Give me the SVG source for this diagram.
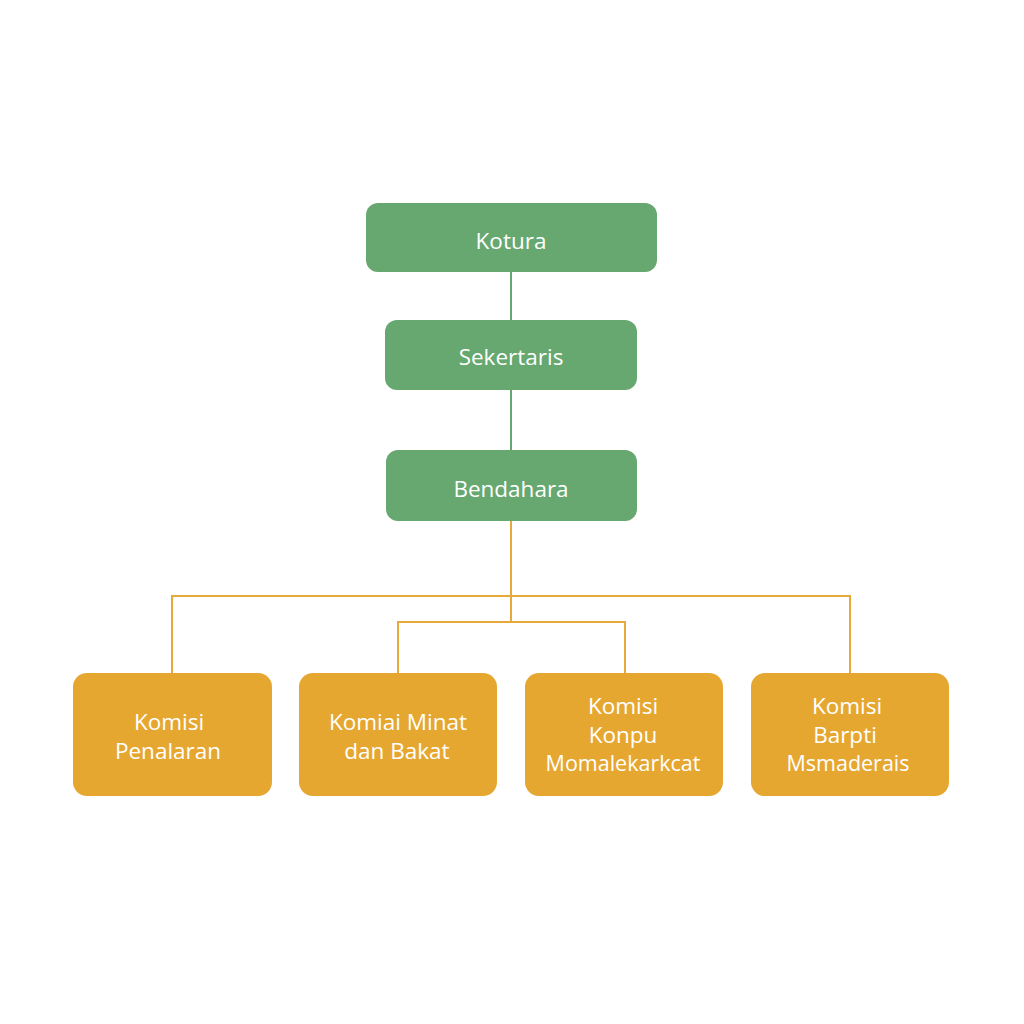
<svg xmlns="http://www.w3.org/2000/svg" width="1024" height="1024" viewBox="0 0 1024 1024">
<style>
.g{fill:#66a870}
.o{fill:#e6a731}
.t{font-family:"Open Sans","DejaVu Sans",sans-serif;font-size:22.5px;fill:#ffffff;text-anchor:middle;dominant-baseline:central}
.s{font-size:21.5px}
.lg{stroke:#66a870;stroke-width:2;fill:none}
.lo{stroke:#e6a93c;stroke-width:2;fill:none}
</style>
<rect width="1024" height="1024" fill="#ffffff"/>
<g id="connectors">
<path class="lg" d="M511 272V320M511 390V450"/>
<path class="lo" d="M511 521V622M172 673V596H850V673M398 673V622H625V673"/>
</g>
<g id="kotura"><rect class="g" x="366" y="203" width="291" height="69" rx="12"/><text class="t" x="511" y="240">Kotura</text></g>
<g id="sekertaris"><rect class="g" x="385" y="320" width="252" height="70" rx="12"/><text class="t" x="511" y="356">Sekertaris</text></g>
<g id="bendahara"><rect class="g" x="386" y="450" width="251" height="71" rx="12"/><text class="t" x="511" y="488">Bendahara</text></g>
<g id="komisi1"><rect class="o" x="73" y="673" width="199" height="123" rx="14"/><text class="t" x="169" y="721">Komisi</text><text class="t" x="168" y="750">Penalaran</text></g>
<g id="komisi2"><rect class="o" x="299" y="673" width="198" height="123" rx="14"/><text class="t" x="398" y="721">Komiai Minat</text><text class="t" x="397" y="750">dan Bakat</text></g>
<g id="komisi3"><rect class="o" x="525" y="673" width="198" height="123" rx="14"/><text class="t" x="623" y="705">Komisi</text><text class="t" x="623" y="734">Konpu</text><text class="t s" x="623" y="762">Momalekarkcat</text></g>
<g id="komisi4"><rect class="o" x="751" y="673" width="198" height="123" rx="14"/><text class="t" x="847" y="705">Komisi</text><text class="t" x="845" y="734">Barpti</text><text class="t s" x="848" y="762">Msmaderais</text></g>
</svg>
